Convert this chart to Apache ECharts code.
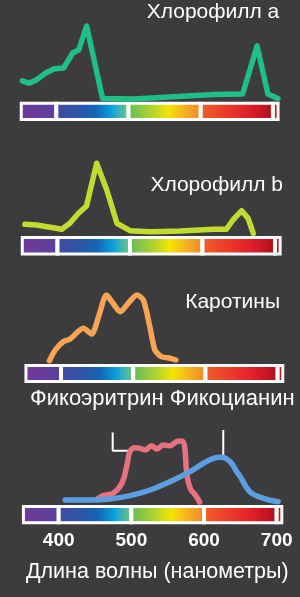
<!DOCTYPE html>
<html><head><meta charset="utf-8">
<script src="https://cdn.jsdelivr.net/npm/echarts@6/dist/echarts.min.js"></script>
<style>html,body{margin:0;padding:0;background:#3c3c3e}#c{width:300px;height:597px}</style>
</head><body><div id="c"></div>
<script>
// ---- data (wavelength nm / relative absorption 0..100) ----
const chlA_nm  = [353,362,372,386,397,410,423,431,442,464,507,618,658,678,693,707];
const chlA_val = [24,21,25,34,39,40,59,62.5,92.5,2,1.2,7,7.5,67.5,7.5,2];
const chlB_nm  = [355,371,390,406,417,429,440,454,468,482,500,528,569,615,633,642,654,663,670];
const chlB_val = [14.6,13.75,10.9,8.4,15.9,28.4,37.5,90.9,57.5,15.9,6.6,5.4,6.25,8.4,8.4,20,31.6,22,3.4];
const car_nm   = [384,392,403,412,431,442.5,452,463,472,482,493,505,514,523,530,539,551,559];
const car_val  = [5.4,18.75,29.1,32.1,45.9,38.75,60.4,87.5,77.1,66.6,77.1,87.5,81.25,47.9,18.75,10.4,8.4,6.25];
const pe_nm    = [452,461,475,487,494,498,505,512,519,528,535,544,553,565,571,574,576,581,588,594];
const pe_val   = [3,7.9,11,23.4,46.25,62.9,67.9,67.1,65,70.4,66.25,71.25,70.4,76.25,75.4,62.9,37.9,17.1,8.75,0];
const pc_nm    = [409,443,471,498,526,553,581,599,613,624,636,645,650,663,682,702];
const pc_val   = [2.5,2.5,3.75,7.9,15,25.4,37.9,48.4,54.6,55.9,50.4,37.9,31.6,12.9,4.6,0.4];
const peMark   = [[474.3,87],[474.3,64],[500.5,64]];
const pcMark   = [[626.5,90],[626.5,58.75]];
const spectrumBounds = [353.5,400,500,600,700,705];
const tickLabels = [400,500,600,700];
const titles = ['Хлорофилл a','Хлорофилл b','Каротины','Фикоэритрин Фикоцианин'];
const axisTitle = 'Длина волны (нанометры)';

// ---- styles / layout ----
const FONT = 'Liberation Sans';
const segGrad = [
  [[0,'#6f3a97'],[1,'#5d3f9f']],
  [[0,'#3f4da2'],[0.3,'#2c55a8'],[0.55,'#1466b6'],[0.78,'#0aa0de'],[0.9,'#3cb6b4'],[1,'#68c084']],
  [[0,'#6cbd58'],[0.3,'#acd232'],[0.55,'#f4e500'],[0.8,'#f5b021'],[1,'#f08d2c']],
  [[0,'#f05b29'],[0.35,'#ec3a2a'],[0.65,'#e2202a'],[1,'#b3101d']],
  [[0,'#c3121f'],[1,'#c3121f']]
];
const panels = [
  {left:13,   width:274.4, top:20,  h:80, barTop:101.7, barH:19.3},
  {left:14,   width:275.5, top:156, h:80, barTop:236,   barH:19.5},
  {left:17.7, width:274.4, top:285, h:80, barTop:364,   barH:19},
  {left:15.1, width:276.1, top:422, h:80, barTop:505,   barH:19.3}
];
const XMIN = 340, XMAX = 720;

const grid = [], xAxis = [], yAxis = [], series = [];
panels.forEach((p,i) => {
  grid.push({left:p.left, width:p.width, top:p.top, height:p.h});
  grid.push({left:p.left, width:p.width, top:p.barTop, height:p.barH});
  const last = i === panels.length-1;
  xAxis.push({type:'value', gridIndex:2*i, min:XMIN, max:XMAX, show:false});
  xAxis.push({type:'value', gridIndex:2*i+1, min:XMIN, max:XMAX, show:last,
    axisLine:{show:false}, axisTick:{show:false}, splitLine:{show:false},
    axisLabel:{show:last, customValues:tickLabels, color:'#ffffff', fontSize:19, fontWeight:'bold', fontFamily:FONT, margin:7}});
  yAxis.push({type:'value', gridIndex:2*i, min:0, max:100, show:false});
  yAxis.push({type:'value', gridIndex:2*i+1, min:0, max:1, show:false});
  const segs = [];
  for (let k=0;k<spectrumBounds.length-1;k++) segs.push([spectrumBounds[k], spectrumBounds[k+1], k]);
  series.push({
    type:'custom', xAxisIndex:2*i+1, yAxisIndex:2*i+1, silent:true, clip:false,
    data:segs,
    renderItem:function(params, api){
      const k = api.value(2);
      const x0 = api.coord([api.value(0),0])[0];
      const x1 = api.coord([api.value(1),0])[0];
      const cs = params.coordSys;
      const first = k===0, lastSeg = k===spectrumBounds.length-2;
      const wl = x0 - (first?3:2), wr = x1 + (lastSeg?3:2);
      const cl = x0 + (first?0:2), cr = x1 - (lastSeg?0:2);
      return {type:'group', children:[
        {type:'rect', shape:{x:wl, y:cs.y, width:wr-wl, height:cs.height}, style:{fill:'#ffffff'}},
        {type:'rect', shape:{x:cl, y:cs.y+3, width:Math.max(cr-cl,0.5), height:cs.height-6},
          style:{fill:{type:'linear', x:0,y:0,x2:1,y2:0, colorStops:segGrad[k].map(s=>({offset:s[0], color:s[1]}))}}}
      ]};
    }
  });
});

function curve(i, xs, ys, color, smooth){
  return {type:'line', xAxisIndex:2*i, yAxisIndex:2*i, data:xs.map((x,j)=>[x,ys[j]]),
    symbol:'none', smooth:smooth, clip:false, silent:true,
    lineStyle:{color:color, width:5.5, cap:'round', join:'round'}};
}
series.push(curve(0, chlA_nm, chlA_val, '#1fbf85', false));
series.push(curve(1, chlB_nm, chlB_val, '#c3da30', false));
series.push(curve(2, car_nm, car_val, '#f7a552', 0.25));
series.push({type:'line', xAxisIndex:6, yAxisIndex:6, data:peMark, symbol:'none', silent:true, clip:false,
  lineStyle:{color:'#ffffff', width:2}});
series.push({type:'line', xAxisIndex:6, yAxisIndex:6, data:pcMark, symbol:'none', silent:true, clip:false,
  lineStyle:{color:'#ffffff', width:2}});
series.push(curve(3, pe_nm, pe_val, '#e8717f', 0.4));
series.push(curve(3, pc_nm, pc_val, '#5c9ee0', 0.4));

const tStyle = (fs) => ({color:'#ffffff', fontSize:fs, fontWeight:'normal', fontFamily:FONT});
const title = [
  {text:titles[0], right:20.7, top:2, padding:0, textStyle:tStyle(21)},
  {text:titles[1], right:17, top:175, padding:0, textStyle:tStyle(21)},
  {text:titles[2], right:20, top:292, padding:0, textStyle:tStyle(21)},
  {text:titles[3], left:30, top:388, padding:0, textStyle:tStyle(22)},
  {text:axisTitle, left:26, top:561, padding:0, textStyle:tStyle(21.5)}
];

const chart = echarts.init(document.getElementById('c'), null, {renderer:'canvas'});
chart.setOption({backgroundColor:'#3c3c3e', animation:false, title, grid, xAxis, yAxis, series});
</script></body></html>
